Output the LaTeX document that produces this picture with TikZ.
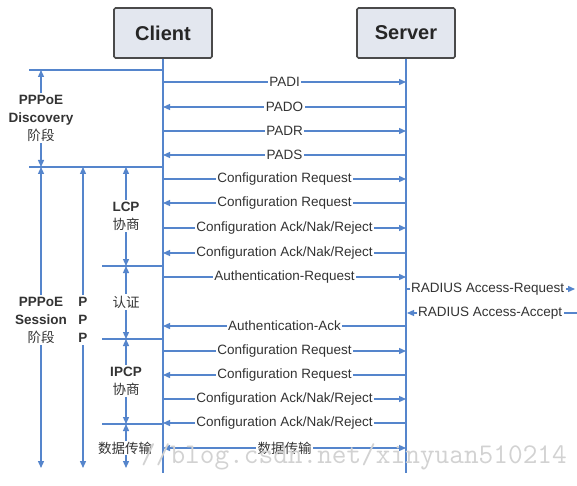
\documentclass[tikz,border=0pt]{standalone}
\usepackage{fontspec}
\setmainfont{Liberation Sans}
\newfontfamily\cjk{Noto Sans CJK SC}
\usetikzlibrary{arrows.meta}
\definecolor{lineblue}{HTML}{5585CC}
\definecolor{txt}{HTML}{333333}
\definecolor{boxfill}{HTML}{E3E7EF}
\definecolor{boxdraw}{HTML}{4A4A4A}
\begin{document}
\begin{tikzpicture}[x=1pt,y=-1pt,
  msg/.style={draw=lineblue,line width=1.3pt},
  tipend/.style={-{Triangle[length=7pt,width=6pt]}},
  tipboth/.style={{Triangle[length=7pt,width=6pt]}-{Triangle[length=7pt,width=6pt]}},
  lbl/.style={fill=white,inner sep=1.5pt,text=txt,font=\fontsize{13.5}{16}\selectfont},
  side/.style={fill=white,inner sep=2pt,text=txt,align=center,font=\fontsize{13.5}{18}\selectfont},
  box/.style={draw=boxdraw,fill=boxfill,line width=1.6pt,rounded corners=1.5pt,
    minimum width=98pt,minimum height=50pt,text=black!85,font=\fontsize{20}{24}\selectfont\bfseries},
  wm/.style={text=gray!35,font=\fontsize{28.5}{30}\selectfont\ttfamily,inner sep=0pt}
]
\useasboundingbox (0,0) rectangle (577,486);
\fill[white] (0,0) rectangle (577,486);

% boxes and lifelines
\node[box] (client) at (163,33) {Client};
\node[box] (server) at (406,33) {Server};
\coordinate (cend) at (163,473);
\coordinate (send) at (406,473);
\draw[msg] (client.south) -- (cend);
\draw[msg] (server.south) -- (send);

% message coordinates on the lifelines
\foreach \i/\y in {1/82,2/107,3/131,4/155,5/179,6/203,7/228,8/253,9/277,10/326,
                   11/351,12/375,13/399,14/423,15/448}{
  \coordinate (c\i) at (163,\y);
  \coordinate (s\i) at (406,\y);
}

% messages
\draw[msg,tipend] (c1) -- (s1) node[lbl,midway]{PADI};
\draw[msg,tipend] (s2) -- (c2) node[lbl,midway]{PADO};
\draw[msg,tipend] (c3) -- (s3) node[lbl,midway]{PADR};
\draw[msg,tipend] (s4) -- (c4) node[lbl,midway]{PADS};
\draw[msg,tipend] (c5) -- (s5) node[lbl,midway]{Configuration Request};
\draw[msg,tipend] (s6) -- (c6) node[lbl,midway]{Configuration Request};
\draw[msg,tipend] (c7) -- (s7) node[lbl,midway]{Configuration Ack/Nak/Reject};
\draw[msg,tipend] (s8) -- (c8) node[lbl,midway]{Configuration Ack/Nak/Reject};
\draw[msg,tipend] (c9) -- (s9) node[lbl,midway]{Authentication-Request};
\draw[msg,tipend] (s10) -- (c10) node[lbl,midway]{Authentication-Ack};
\draw[msg,tipend] (c11) -- (s11) node[lbl,midway]{Configuration Request};
\draw[msg,tipend] (s12) -- (c12) node[lbl,midway]{Configuration Request};
\draw[msg,tipend] (c13) -- (s13) node[lbl,midway]{Configuration Ack/Nak/Reject};
\draw[msg,tipend] (s14) -- (c14) node[lbl,midway]{Configuration Ack/Nak/Reject};
\draw[msg,tipboth] (c15) -- (s15) node[lbl,midway]{\cjk 数据传输};

% RADIUS
\coordinate (rq0) at (406,289);
\coordinate (rq1) at (575,289);
\coordinate (ra0) at (577,313);
\coordinate (ra1) at (407,313);
\draw[msg,tipend] (rq0) -- (rq1) node[lbl,pos=0,anchor=west,xshift=3pt]{RADIUS Access-Request};
\draw[msg,tipend] (ra0) -- (ra1) node[lbl,pos=1,anchor=west,xshift=9pt]{RADIUS Access-Accept};

% separators
\coordinate (h1) at (29,70);   \coordinate (h1c) at (163,70);
\coordinate (h2) at (29,167);  \coordinate (h2c) at (163,167);
\coordinate (h3) at (102,266); \coordinate (h3c) at (163,266);
\coordinate (h4) at (102,339); \coordinate (h4c) at (163,339);
\coordinate (h5) at (102,424); \coordinate (h5c) at (163,424);
\draw[msg] (h1) -- (h1c);
\draw[msg] (h2) -- (h2c);
\draw[msg] (h3) -- (h3c);
\draw[msg] (h4) -- (h4c);
\draw[msg] (h5) -- (h5c);

% phase arrows
\coordinate (d0) at (41,70);  \coordinate (d1) at (41,167); \coordinate (d2) at (41,468);
\coordinate (p1) at (83,167); \coordinate (p2) at (83,468);
\coordinate (l0) at (126,167); \coordinate (l1) at (126,266); \coordinate (l2) at (126,339);
\coordinate (l3) at (126,424); \coordinate (l4) at (126,468);
\draw[msg,tipboth] (d0) -- (d1);
\draw[msg,tipboth] (d1) -- (d2);
\draw[msg,tipboth] (p1) -- (p2);
\draw[msg,tipboth] (l0) -- (l1);
\draw[msg,tipboth] (l1) -- (l2);
\draw[msg,tipboth] (l2) -- (l3);
\draw[msg,tipboth] (l3) -- (l4);

\node[side] (disc) at (41,118) {\bfseries PPPoE\\\bfseries Discovery\\{\cjk 阶段}};
\node[side] (sess) at (41,320) {\bfseries PPPoE\\\bfseries Session\\{\cjk 阶段}};
\node[side] (ppp) at (83,320) {\bfseries P\\\bfseries P\\\bfseries P};
\node[side] (lcp) at (126,216) {\bfseries LCP\\{\cjk 协商}};
\node[side] (auth) at (126,302) {\cjk 认证};
\node[side] (ipcp) at (126,381) {\bfseries IPCP\\{\cjk 协商}};
\node[side,inner sep=1pt] (data) at (125,448) {\cjk 数据传输};

% watermark
\node[wm,anchor=base east] (wmark) at (567,463) {//blog.csdn.net/xinyuan510214};
\end{tikzpicture}
\end{document}
